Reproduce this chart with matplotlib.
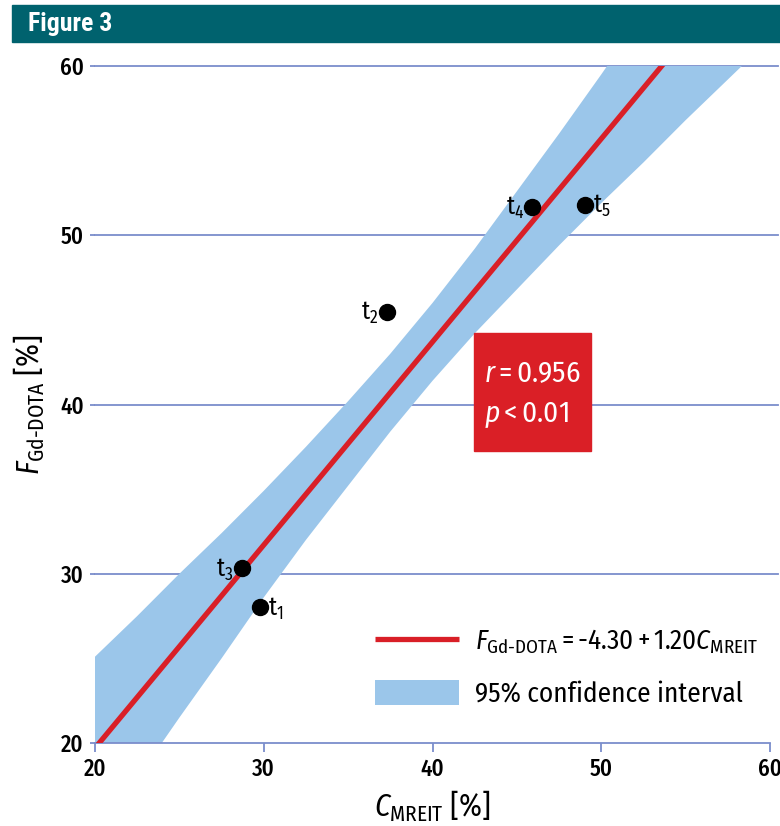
import matplotlib
matplotlib.use("Agg")
import matplotlib.pyplot as plt
from matplotlib.lines import Line2D
from matplotlib.patches import Patch, Rectangle

c_mreit = [29.78, 37.29, 28.69, 45.92, 49.04]
f_gd = [28.02, 45.48, 30.32, 51.69, 51.79]
point_names = ["t$_1$", "t$_2$", "t$_3$", "t$_4$", "t$_5$"]
label_side = ["right", "left", "left", "left", "right"]

# regression line F = -4.30 + 1.20 C
intercept, slope = -4.30, 1.20
fit_x = [20.0, 60.0]

# 95% confidence band edges
conf_x = [20, 22.5, 25, 27.5, 30, 32.5, 35, 37.5, 40, 42.5, 45, 47.5, 50, 52.5, 55, 57.5, 60]
conf_hi = [25.1, 27.5, 30.0, 32.4, 34.9, 37.5, 40.2, 43.0, 46.0, 49.2, 52.6, 56.0, 59.5, 63.1, 66.6, 70.2, 73.8]
conf_lo = [14.3, 17.9, 21.5, 25.0, 28.6, 32.0, 35.2, 38.4, 41.4, 44.2, 46.8, 49.4, 51.9, 54.3, 56.8, 59.2, 61.6]

ticks = [20, 30, 40, 50, 60]

TEAL = "#00626e"
RED = "#d91f27"
BAND = "#9bc6ea"
GRID = "#7b8dcb"
FONT = "Fira Sans Condensed"

plt.rcParams["font.family"] = [FONT, "DejaVu Sans"]
plt.rcParams["mathtext.fontset"] = "custom"
plt.rcParams["mathtext.rm"] = FONT
plt.rcParams["mathtext.it"] = FONT + ":italic"
plt.rcParams["mathtext.default"] = "rm"

fig = plt.figure(figsize=(7.8, 8.26), dpi=100)

# header banner
fig.patches.append(Rectangle((12 / 780, 1 - 42 / 826), 768 / 780, 37 / 826,
                             transform=fig.transFigure, color=TEAL, zorder=0))
fig.text(28 / 780, 1 - 24 / 826, "Figure 3", color="white", fontsize=18.5,
         family="Roboto Condensed", weight="bold", va="center", ha="left")

ax = fig.add_axes([95 / 780, 1 - 743 / 826, 675 / 780, 677 / 826])
ax.set_xlim(20, 60)
ax.set_ylim(20, 60)

# gridlines
for y in ticks[1:]:
    ax.axhline(y, xmin=0, xmax=(778 - 95) / 675, color=GRID, lw=1.3,
               clip_on=False, zorder=1)

ax.fill_between(conf_x, conf_lo, conf_hi, color=BAND, lw=0, zorder=2)
fit_y = [intercept + slope * x for x in fit_x]
ax.plot(fit_x, fit_y, color=RED, lw=3.8, solid_capstyle="butt", zorder=3)

ax.plot(c_mreit, f_gd, "o", color="black", ms=11.5, zorder=4)
for x, y, name, side in zip(c_mreit, f_gd, point_names, label_side):
    dx = 6 if side == "right" else -6
    ax.annotate(name, (x, y), xytext=(dx, -1), textcoords="offset points",
                ha="left" if side == "right" else "right", va="center",
                fontsize=18, zorder=5)

# r / p box
ax.add_patch(Rectangle(((474 - 95) / 675, (743 - 451) / 677), 117 / 675, 118 / 677,
                       transform=ax.transAxes, color="#da1f26", zorder=6))
ax.text((484 - 95) / 675, (743 - 382) / 677, r"$\mathit{r} = 0.956$",
        transform=ax.transAxes, color="white", fontsize=21, va="baseline", zorder=7)
ax.text((484 - 95) / 675, (743 - 422) / 677, r"$\mathit{p} < 0.01$",
        transform=ax.transAxes, color="white", fontsize=21, va="baseline", zorder=7)

# legend
handles = [Line2D([], [], color=RED, lw=3.8, solid_capstyle="butt"),
           Patch(facecolor=BAND, edgecolor="none")]
labels = [r"$\mathit{F}_{\mathrm{Gd\text{-}DOTA}} = \text{-}4.30 + 1.20\mathit{C}_{\mathrm{MREIT}}$",
          "95% confidence interval"]
ax.legend(handles, labels, loc="upper left", bbox_to_anchor=((375 - 95) / 675, (743 - 628) / 677),
          frameon=False, fontsize=19.5, handlelength=3.1, handleheight=1.05,
          handletextpad=0.6, labelspacing=0.85, borderpad=0, borderaxespad=0)

for s in ["top", "right", "left"]:
    ax.spines[s].set_visible(False)
ax.spines["bottom"].set_color(GRID)
ax.spines["bottom"].set_linewidth(1.3)
ax.spines["bottom"].set_bounds(20, 60)

ax.set_xticks(ticks)
ax.set_yticks(ticks)
ax.tick_params(axis="x", length=6.5, width=1.3, color=GRID, labelsize=16.5, pad=4)
ax.tick_params(axis="y", length=3.6, width=1.3, color=GRID, labelsize=16.5, pad=4.5)
for lab in ax.get_xticklabels() + ax.get_yticklabels():
    lab.set_fontweight("medium")

ax.set_xlabel(r"$\mathit{C}_{\mathrm{MREIT}}$ [%]", fontsize=22, labelpad=6)
ax.set_ylabel(r"$\mathit{F}_{\mathrm{Gd\text{-}DOTA}}$ [%]", fontsize=22, labelpad=9)

fig.savefig("out.png", dpi=100)
